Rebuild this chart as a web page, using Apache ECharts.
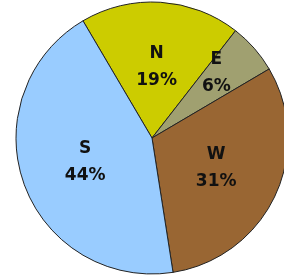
<!DOCTYPE html>
<html lang="en">
<head>
    <meta charset="UTF-8">
    <script src="https://cdn.jsdelivr.net/npm/echarts@6/dist/echarts.min.js"></script>
    <style>
        html, body { margin: 0; padding: 0; background: #fff; }
        #chart { width: 284px; height: 280px; }
    </style>
</head>
<body>
    <div id="chart"></div>
    <script>
        var names = ['N', 'E', 'W', 'S']
        var values = [19, 6, 31, 44]
        var colors = ['#cccc00', '#a0a070', '#996633', '#99ccff']

        var data = []
        for (var i = 0; i < names.length; i++) {
            data.push({ name: names[i], value: values[i], itemStyle: { color: colors[i] } })
        }

        var chart = echarts.init(document.getElementById('chart'))
        chart.setOption({
            animation: false,
            series: [
                {
                    type: 'pie',
                    center: [152, 138],
                    radius: [0, 136],
                    startAngle: 120.5,
                    clockwise: true,
                    data: data,
                    itemStyle: {
                        borderColor: '#222',
                        borderWidth: 1
                    },
                    label: {
                        position: 'inside',
                        formatter: '{b}\n{d}%',
                        fontFamily: 'DejaVu Sans',
                        fontWeight: 'bold',
                        fontSize: 17,
                        lineHeight: 27,
                        color: '#111'
                    },
                    labelLayout: function (params) {
                        if (params.dataIndex === 1) return { dx: 11, dy: -18 }
                    },
                    emphasis: { disabled: true }
                }
            ]
        })
    </script>
</body>
</html>
